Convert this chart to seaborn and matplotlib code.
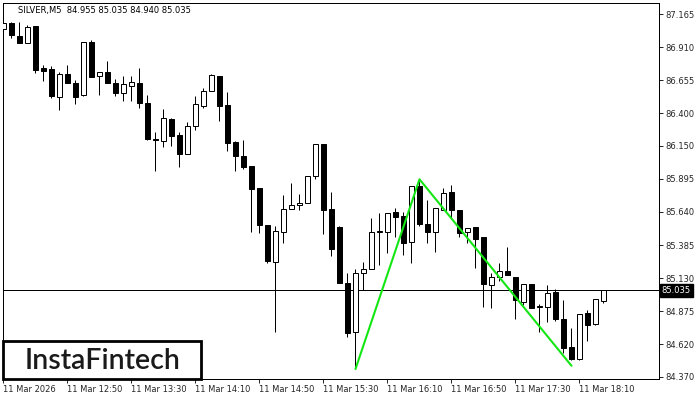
import seaborn as sns
import numpy as np
import pandas as pd
import matplotlib.pyplot as plt
from matplotlib.patches import Rectangle

# M5 candles
opens = [87.049, 87.096, 86.996, 86.939, 87.073, 86.751, 86.741, 86.528, 86.700, 86.633,
         86.539, 86.947, 86.685, 86.720, 86.633, 86.559, 86.613, 86.633, 86.477, 86.202,
         86.187, 86.356, 86.233, 86.084, 86.304, 86.459, 86.574, 86.687, 86.464, 86.179,
         86.071, 85.994, 85.825, 85.539, 85.257, 85.488, 85.665, 85.691, 85.707, 85.919,
         86.163, 85.663, 85.526, 85.090, 84.717, 85.167, 85.203, 85.489, 85.483, 85.637,
         85.609, 85.411, 85.840, 85.547, 85.488, 85.655, 85.791, 85.655, 85.488, 85.524,
         85.445, 85.077, 85.141, 85.187, 85.141, 84.948, 85.083, 84.915, 84.905, 85.021,
         84.815, 84.600, 84.509, 84.859, 84.777, 84.955]
highs = [87.103, 87.100, 87.106, 87.080, 87.073, 86.772, 86.764, 86.716, 86.772, 86.657,
         86.949, 86.965, 86.718, 86.803, 86.664, 86.687, 86.687, 86.747, 86.541, 86.254,
         86.433, 86.364, 86.254, 86.335, 86.533, 86.597, 86.703, 86.687, 86.562, 86.187,
         86.194, 85.994, 85.825, 85.539, 85.532, 85.770, 85.865, 85.778, 85.917, 86.163,
         86.163, 85.791, 85.532, 85.172, 85.198, 85.254, 85.596, 85.634, 85.634, 85.668,
         85.642, 85.840, 85.892, 85.732, 85.668, 85.822, 85.848, 85.655, 85.514, 85.524,
         85.445, 85.167, 85.244, 85.372, 85.141, 85.083, 85.083, 84.929, 85.075, 85.049,
         84.962, 84.744, 84.851, 84.885, 84.967, 85.035]
lows = [86.965, 86.982, 86.944, 86.939, 86.713, 86.651, 86.516, 86.425, 86.636, 86.472,
        86.533, 86.682, 86.541, 86.633, 86.536, 86.495, 86.495, 86.443, 86.194, 85.958,
        86.143, 86.150, 85.989, 86.084, 86.271, 86.443, 86.574, 86.343, 86.112, 85.958,
        85.973, 85.488, 85.478, 85.249, 84.713, 85.403, 85.665, 85.655, 85.707, 85.894,
        85.468, 85.303, 85.090, 84.679, 84.430, 85.039, 85.203, 85.231, 85.321, 85.449,
        85.308, 85.249, 85.534, 85.403, 85.334, 85.655, 85.583, 85.449, 85.398, 85.212,
        84.910, 84.898, 85.110, 85.152, 84.813, 84.921, 84.898, 84.713, 84.790, 84.802,
        84.551, 84.500, 84.499, 84.648, 84.767, 84.940]
closes = [87.098, 87.003, 86.944, 87.063, 86.734, 86.728, 86.536, 86.700, 86.636, 86.528,
          86.947, 86.682, 86.716, 86.636, 86.559, 86.623, 86.639, 86.477, 86.202, 86.194,
          86.364, 86.227, 86.089, 86.302, 86.469, 86.572, 86.695, 86.459, 86.169, 86.073,
          85.989, 85.819, 85.542, 85.262, 85.493, 85.660, 85.691, 85.709, 85.917, 86.163,
          85.655, 85.357, 85.090, 84.711, 85.167, 85.198, 85.483, 85.490, 85.630, 85.603,
          85.403, 85.840, 85.547, 85.488, 85.668, 85.784, 85.655, 85.480, 85.514, 85.434,
          85.083, 85.141, 85.187, 85.152, 84.962, 85.083, 84.898, 84.908, 85.013, 84.818,
          84.594, 84.509, 84.851, 84.771, 84.967, 85.035]

# pattern (double bottom) points: bar index, price
pattern_bar = [44, 52, 71]
pattern_price = [84.430, 85.892, 84.455]

time_labels = ["11 Mar 2026", "11 Mar 12:50", "11 Mar 13:30", "11 Mar 14:10", "11 Mar 14:50",
               "11 Mar 15:30", "11 Mar 16:10", "11 Mar 16:50", "11 Mar 17:30", "11 Mar 18:10"]
price_ticks = [87.165, 86.910, 86.655, 86.400, 86.150, 85.895, 85.640, 85.385,
               85.130, 84.875, 84.620, 84.370]
last_price = 85.035
title = "SILVER,M5  84.955 85.035 84.940 85.035"

df = pd.DataFrame({'open': opens, 'high': highs, 'low': lows, 'close': closes})
df['bar'] = np.arange(len(df))
df['up'] = df['close'] >= df['open']

sns.set_style("white")
plt.rcParams['font.family'] = ['DejaVu Sans']

fig = plt.figure(figsize=(7, 4), dpi=100)
ax = fig.add_axes([2.5 / 700, 1 - 378.7 / 400, (659 - 2.5) / 700, (378.7 - 2.5) / 400])

px = 0.72  # one pixel in points
#_______ candles _______
ax.vlines(df['bar'], df['low'], df['high'], color='black', linewidth=px, zorder=2)
body_lo = df[['open', 'close']].min(axis=1)
body_h = (df['close'] - df['open']).abs().clip(lower=0.0005)
ax.bar(df['bar'], body_h, bottom=body_lo, width=0.55,
       color=np.where(df['up'], 'white', 'black'), edgecolor='black',
       linewidth=px, zorder=3)

# current price line
ax.axhline(last_price, color='black', linewidth=px, zorder=1)

# pattern lines
sns.lineplot(x=pattern_bar, y=pattern_price, color='#14e614', linewidth=1.5,
             sort=False, ax=ax, zorder=4)

ax.set_xlim(-0.125, 81.94)
ax.set_ylim(84.3553, 87.2536)

# time axis
ax.set_xticks(np.arange(0, 8 * len(time_labels), 8))
ax.set_xticklabels(time_labels, ha='left', fontsize=6)
ax.tick_params(axis='x', direction='out', length=3, width=px, pad=1.5, bottom=True)

# price axis on the right
ax.yaxis.tick_right()
ax.set_yticks(price_ticks)
ax.set_yticklabels([f"{v:.3f}" for v in price_ticks], fontsize=6)
ax.tick_params(axis='y', direction='out', length=3, width=px, pad=1.5, right=True, left=False)

for s in ax.spines.values():
    s.set_linewidth(px)
    s.set_color('black')

# last price box
ax.annotate(f"{last_price:.3f}", xy=(1.004, last_price), xycoords=('axes fraction', 'data'),
            ha='left', va='center', fontsize=6, color='white',
            bbox=dict(boxstyle='square,pad=0.25', fc='black', ec='black'))

fig.text(18 / 700, 1 - 10 / 400, title, fontsize=6, va='center', ha='left', color='black')

# logo box
ax.add_patch(Rectangle((0.0, 0.0), 0.302, 0.101, transform=ax.transAxes,
                       facecolor='white', edgecolor='black', linewidth=2.0, zorder=6,
                       clip_on=False))
ax.text(0.153, 0.048, "InstaFintech", transform=ax.transAxes, ha='center', va='center',
        fontsize=20.5, fontweight='semibold', color='#1a1a1a',
        family=['Lato', 'DejaVu Sans'], zorder=7)

fig.savefig('out.png', dpi=100)
